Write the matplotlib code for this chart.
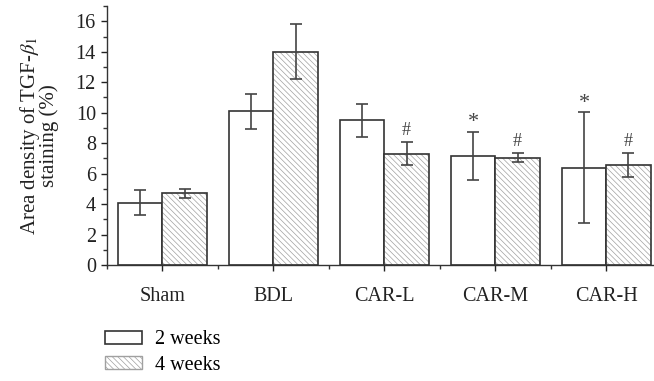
import numpy as np
import matplotlib
matplotlib.use("Agg")
import matplotlib.pyplot as plt
from matplotlib.patches import Patch
from matplotlib.ticker import MultipleLocator

plt.rcParams['font.family'] = 'Liberation Serif'
plt.rcParams['mathtext.fontset'] = 'stix'
plt.rcParams['hatch.linewidth'] = 0.5

groups = ["Sham", "BDL", "CAR-L", "CAR-M", "CAR-H"]
week2 = [4.1, 10.1, 9.5, 7.15, 6.4]
week2_err = [0.8, 1.15, 1.07, 1.6, 3.65]
week4 = [4.7, 14.0, 7.3, 7.05, 6.55]
week4_err = [0.3, 1.8, 0.75, 0.3, 0.8]
week2_marks = ["", "", "", "*", "*"]
week4_marks = ["", "", "#", "#", "#"]

edge = "#333333"
hatch_col = "#a0a0a0"
err_col = "#444444"
hatch = "\\\\\\\\\\\\"

fig = plt.figure(figsize=(6.54, 3.81), dpi=100)
ax = fig.add_axes([0.1636, 0.3045, 0.8364, 0.6795])

x = np.arange(len(groups))
w = 0.4

ax.bar(x - w / 2, week2, w, color="white", edgecolor=edge, linewidth=1.2, zorder=2)
ax.bar(x + w / 2, week4, w, color="white", edgecolor=hatch_col, linewidth=0,
       hatch=hatch, zorder=2)
ax.bar(x + w / 2, week4, w, fill=False, edgecolor=edge, linewidth=1.2, zorder=3)

ax.errorbar(x - w / 2, week2, yerr=week2_err, fmt="none", ecolor=err_col,
            elinewidth=1.2, capsize=4, capthick=1.2, zorder=4)
ax.errorbar(x + w / 2, week4, yerr=week4_err, fmt="none", ecolor=err_col,
            elinewidth=1.2, capsize=4, capthick=1.2, zorder=4)

for i in range(len(groups)):
    if week2_marks[i]:
        ax.text(x[i] - w / 2, week2[i] + week2_err[i] - 0.05, week2_marks[i],
                ha="center", va="bottom", fontsize=16, color=err_col)
    if week4_marks[i]:
        ax.text(x[i] + w / 2, week4[i] + week4_err[i] + 0.2, week4_marks[i],
                ha="center", va="bottom", fontsize=13, color=err_col)

ax.set_xlim(-0.5, 4.43)
ax.set_ylim(0, 17)
ax.set_xticks(x)
ax.set_xticklabels(groups, fontsize=14.5)
ax.xaxis.set_minor_locator(MultipleLocator(1, offset=0.5))
ax.yaxis.set_major_locator(MultipleLocator(2))
ax.yaxis.set_minor_locator(MultipleLocator(1))
ax.tick_params(axis="both", which="both", direction="out", color=edge, width=1)
ax.tick_params(axis="both", which="major", length=4, labelsize=14.5, colors="#222222")
ax.tick_params(axis="both", which="minor", length=3)
ax.tick_params(axis="x", which="major", pad=12)
ax.tick_params(axis="y", which="major", pad=4)
for s in ["top", "right"]:
    ax.spines[s].set_visible(False)
for s in ["left", "bottom"]:
    ax.spines[s].set_color(edge)
    ax.spines[s].set_linewidth(1)

ax.set_ylabel("Area density of TGF-$\\beta_1$\nstaining (%)", fontsize=15,
              color="#222222", linespacing=0.78, labelpad=12)

handles = [Patch(facecolor="white", edgecolor=edge, linewidth=1.2),
           Patch(facecolor="white", edgecolor=hatch_col, hatch=hatch, linewidth=1.0)]
fig.legend(handles, ["2 weeks", "4 weeks"], loc="upper left",
           bbox_to_anchor=(0.161, 0.133), frameon=False, fontsize=14.5,
           handlelength=1.8, handleheight=0.6, labelspacing=0.32, handletextpad=0.65,
           borderaxespad=0, borderpad=0)

fig.savefig("out.png", dpi=100)
